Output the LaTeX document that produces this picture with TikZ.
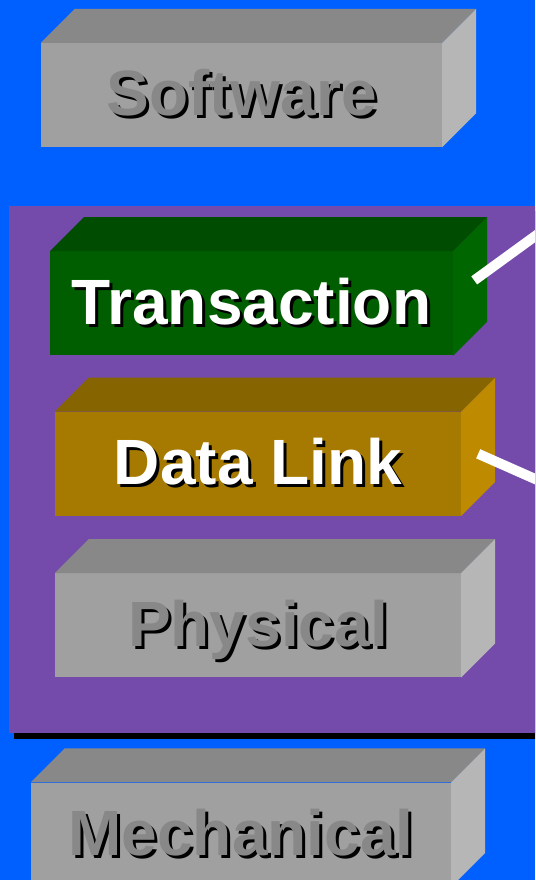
\documentclass[tikz,border=0pt]{standalone}
\usepackage{fontspec}
\usepackage{tikz}
\usetikzlibrary{positioning}
\newfontfamily\layerfont{Liberation Sans}
\definecolor{deskblue}{RGB}{0,96,255}
\definecolor{panel}{RGB}{116,74,170}
\definecolor{greyFront}{RGB}{160,160,160}
\definecolor{greyTop}{RGB}{136,136,136}
\definecolor{greySide}{RGB}{182,182,182}
\definecolor{greenFront}{RGB}{0,94,0}
\definecolor{greenTop}{RGB}{0,76,0}
\definecolor{greenSide}{RGB}{0,102,0}
\definecolor{goldFront}{RGB}{166,122,0}
\definecolor{goldTop}{RGB}{134,100,0}
\definecolor{goldSide}{RGB}{190,138,0}
\newcommand{\Raised}[2]{\rlap{\hspace{3pt}\raisebox{-3pt}{\color{black}#2}}\textcolor{#1}{#2}}
\newcommand{\Slab}[3]{%
    \fill[#2] (#1.north west) -- ++(34,-34) -- ([shift={(34,-34)}]#1.north east) -- (#1.north east) -- cycle;
    \fill[#3] (#1.north east) -- ++(34,-34) -- ([shift={(34,-34)}]#1.south east) -- (#1.south east) -- cycle;
}
\tikzset{
    slab/.style={minimum width=#1, minimum height=104pt, inner sep=0pt,
        text height=42pt, text depth=0pt,
        font=\layerfont\bfseries\fontsize{64}{64}\selectfont},
    wire/.style={draw=white, line width=10pt},
}
\begin{document}
\begin{tikzpicture}[x=1pt, y=-1pt]
    \clip (0,0) rectangle (535,880);
    \fill[deskblue] (0,0) rectangle (535,880);

    % purple panel with its shadow
    \fill[black] (14,211) rectangle (560,739);
    \fill[panel] (9,206) rectangle (560,733);

    \node[slab=401pt, fill=greyFront] (sw) at (241.5,95) {\Raised{greyTop}{Software}};
    \node[slab=403pt, fill=greenFront, below=104pt of sw, xshift=10pt] (tr) {\Raised{white}{Transaction}};
    \node[slab=406pt, fill=goldFront, below=56pt of tr, xshift=6.5pt] (dl) {\Raised{white}{Data Link}};
    \node[slab=406pt, fill=greyFront, below=57pt of dl] (ph) {\Raised{greyTop}{Physical}};
    \node[slab=420pt, fill=greyFront, below=105pt of ph, xshift=-17pt] (me) {\Raised{greyTop}{Mechanical}};

    \Slab{sw}{greyTop}{greySide}
    \Slab{tr}{greenTop}{greenSide}
    \Slab{dl}{goldTop}{goldSide}
    \Slab{ph}{greyTop}{greySide}
    \Slab{me}{greyTop}{greySide}

    \coordinate (tr-tap) at ([shift={(21,-23)}]tr.east);
    \coordinate (tr-out) at (560,218);
    \coordinate (dl-tap) at ([shift={(17,-10)}]dl.east);
    \coordinate (dl-out) at (560,490);

    \draw[wire] (tr-tap) -- (tr-out);
    \draw[wire] (dl-tap) -- (dl-out);
\end{tikzpicture}
\end{document}
